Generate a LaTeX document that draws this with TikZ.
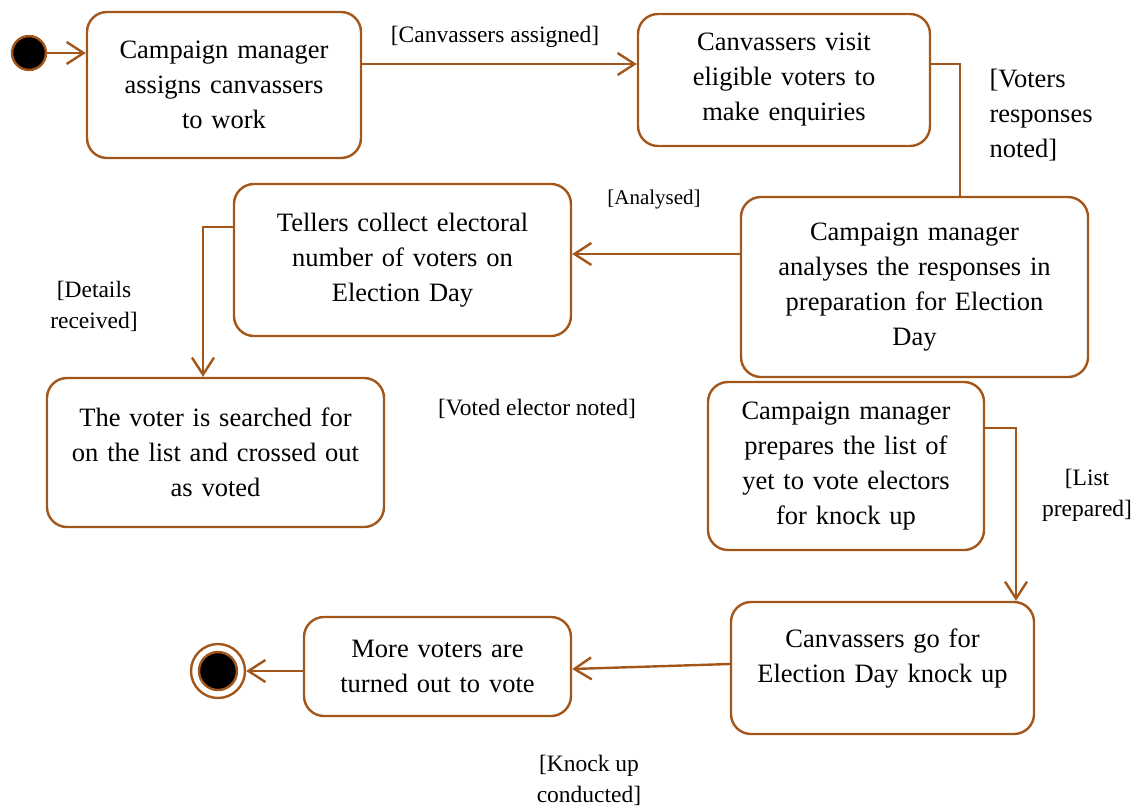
\documentclass[tikz,border=0pt]{standalone}
\usepackage{fontspec}
\setmainfont{Liberation Serif}
\usepackage{tikz}
\usetikzlibrary{arrows.meta}
\definecolor{brn}{RGB}{163,86,26}

\begin{document}
\begin{tikzpicture}[x=1pt,y=-1pt,line width=2.4pt,
    act/.style={draw=brn,rounded corners=20pt,align=center,inner sep=0pt,font=\fontsize{26.5}{35}\selectfont},
    lbl/.style={align=center,font=\fontsize{23.5}{31}\selectfont},
    flow/.style={draw=brn,-{Straight Barb[length=17pt,width=22pt,line width=2.4pt]}}]

    \useasboundingbox (0,0) rectangle (1141,807);

    \node[circle,draw=brn,fill=black,minimum size=34pt,inner sep=0pt] (start) at (29,53) {};
    \node[act,text width=274pt,minimum height=146pt] (asgn) at (224,85) {Campaign manager\\assigns canvassers\\to work};
    \node[act,text width=292pt,minimum height=132pt] (visit) at (784,80) {Canvassers visit\\eligible voters to\\make enquiries};
    \node[act,text width=347pt,minimum height=180pt] (anal) at (914.5,287) {Campaign manager\\analyses the responses in\\preparation for Election\\Day};
    \node[act,text width=337pt,minimum height=152pt] (tell) at (402.5,260) {Tellers collect electoral\\number of voters on\\Election Day};
    \node[act,text width=337pt,minimum height=149pt] (srch) at (215.5,452.5) {The voter is searched for\\on the list and crossed out\\as voted};
    \node[act,text width=276pt,minimum height=168pt] (prep) at (846,466) {Campaign manager\\prepares the list of\\yet to vote electors\\for knock up};
    \node[act,text width=303pt,minimum height=132pt] (knock) at (882.5,668) {Canvassers go for\\Election Day knock up\\[-10pt]\mbox{}};
    \node[act,text width=267pt,minimum height=99pt] (more) at (437.5,666.5) {More voters are\\turned out to vote};
    \node[circle,draw=brn,minimum size=54pt,inner sep=0pt] (stop) at (218,671) {};
    \node[circle,draw=brn,fill=black,minimum size=38pt,inner sep=0pt] (stopin) at (stop) {};

    % guards
    \node[lbl] (l1) at (495,37) {[Canvassers assigned]};
    \node[align=left,anchor=west,font=\fontsize{26.5}{35}\selectfont] (l2) at (985,115) {[Voters\\responses\\noted]};
    \node[font=\fontsize{21}{27}\selectfont] (l3) at (654,199) {[Analysed]};
    \node[lbl] (l4) at (94,306) {[Details\\received]};
    \node[lbl] (l5) at (537,409) {[Voted elector noted]};
    \node[lbl] (l6) at (1087,495) {[List\\prepared]};
    \node[lbl] (l7) at (589,780) {[Knock up\\conducted]};

    \draw[flow] (start.east) -- (start.east -| asgn.west);
    \draw[flow] ([yshift=21pt]asgn.east) -- ([yshift=21pt]asgn.east -| visit.west);
    \draw[draw=brn] ([yshift=16pt]visit.east) -| ([xshift=45.5pt]anal.north);
    \draw[flow] ([yshift=33pt]anal.west) -- ([yshift=33pt]anal.west -| tell.east);
    \draw[flow] ([yshift=33pt]tell.west) -| ([xshift=-12.5pt]srch.north);
    \draw[flow] ([yshift=38pt]prep.east) -| ([xshift=133.5pt]knock.north);
    \draw[flow] ([yshift=4pt]knock.west) -- ([yshift=-2.5pt]more.east);
    \draw[flow] (more.west |- stop) -- (stop);

\end{tikzpicture}
\end{document}
